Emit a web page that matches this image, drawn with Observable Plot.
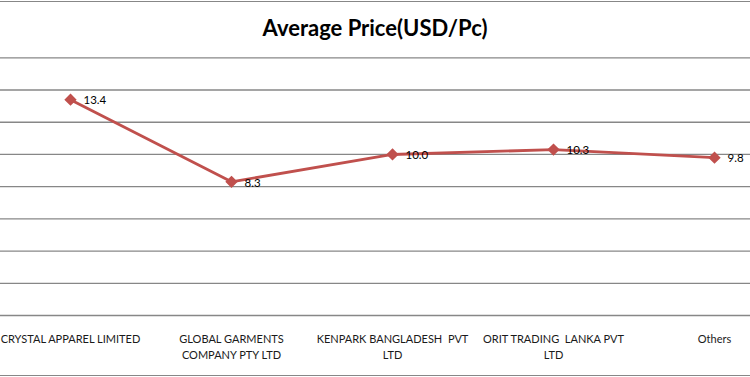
<!DOCTYPE html>
<html>
<head>
<meta charset="utf-8">
<script src="https://cdn.jsdelivr.net/npm/d3@7"></script>
<script src="https://cdn.jsdelivr.net/npm/@observablehq/plot@0.6"></script>
<style>
  html, body { margin: 0; padding: 0; background: #fff; overflow: hidden; }
  #wrap { position: relative; width: 750px; height: 377px; overflow: hidden; }
  #frame { position: absolute; left: 0; top: 1px; width: 750px; height: 375px; box-sizing: border-box;
           border-top: 1.5px solid #878787; border-bottom: 1.5px solid #878787; }
  #title { position: absolute; left: 0; top: 13px; width: 750px; text-align: center;
           font-family: Lato, "Noto Sans", sans-serif; font-weight: bold; font-size: 22px; line-height: 30px; color: #000; }
  #chart { position: absolute; left: 0; top: 0; }
</style>
</head>
<body>
<div id="wrap">
  <div id="frame"></div>
  <div id="chart"></div>
  <div id="title">Average Price(USD/Pc)</div>
</div>
<script>
const categories = [
  "CRYSTAL APPAREL LIMITED",
  "GLOBAL GARMENTS COMPANY PTY LTD",
  "KENPARK BANGLADESH PVT LTD",
  "ORIT TRADING LANKA PVT LTD",
  "Others"
];
const tickLabels = [
  "CRYSTAL APPAREL LIMITED",
  "GLOBAL GARMENTS\nCOMPANY PTY LTD",
  "KENPARK BANGLADESH  PVT\nLTD",
  "ORIT TRADING  LANKA PVT\nLTD",
  "Others"
];
const values = [13.4, 8.3, 10.0, 10.3, 9.8];
const gridValues = [0, 2, 4, 6, 8, 10, 12, 14, 16];

const rows = categories.map((c, i) => ({category: c, value: values[i], label: tickLabels[i]}));
const red = "#C0504D";

const chart = Plot.plot({
  width: 750,
  height: 377,
  marginLeft: 0,
  marginRight: 0,
  marginTop: 57.3,
  marginBottom: 62,
  style: {fontFamily: "Lato, 'Noto Sans', sans-serif", fontSize: "12px", background: "transparent", overflow: "hidden"},
  x: {type: "point", domain: categories, range: [69, 715.3], padding: 0, axis: null},
  y: {domain: [0, 16], axis: null},
  marks: [
    Plot.ruleY(gridValues, {stroke: "#878787", strokeWidth: 1.3}),
    Plot.line(rows, {x: "category", y: "value", stroke: red, strokeWidth: 2.9}),
    Plot.dot(rows, {x: "category", y: "value", symbol: "diamond2", r: 4.6, fill: red, stroke: red}),
    Plot.text(rows, {x: "category", y: "value", text: d => d.value.toFixed(1), dx: 13, dy: 1,
                     textAnchor: "start", fill: "#000", fontSize: 11.5}),
    Plot.text(rows, {x: "category", y: () => 0, text: "label", lineAnchor: "top", dy: 15.8,
                     lineHeight: 1.45, fill: "#1a1a1a", fontSize: 11})
  ]
});
document.getElementById("chart").appendChild(chart);
</script>
</body>
</html>
